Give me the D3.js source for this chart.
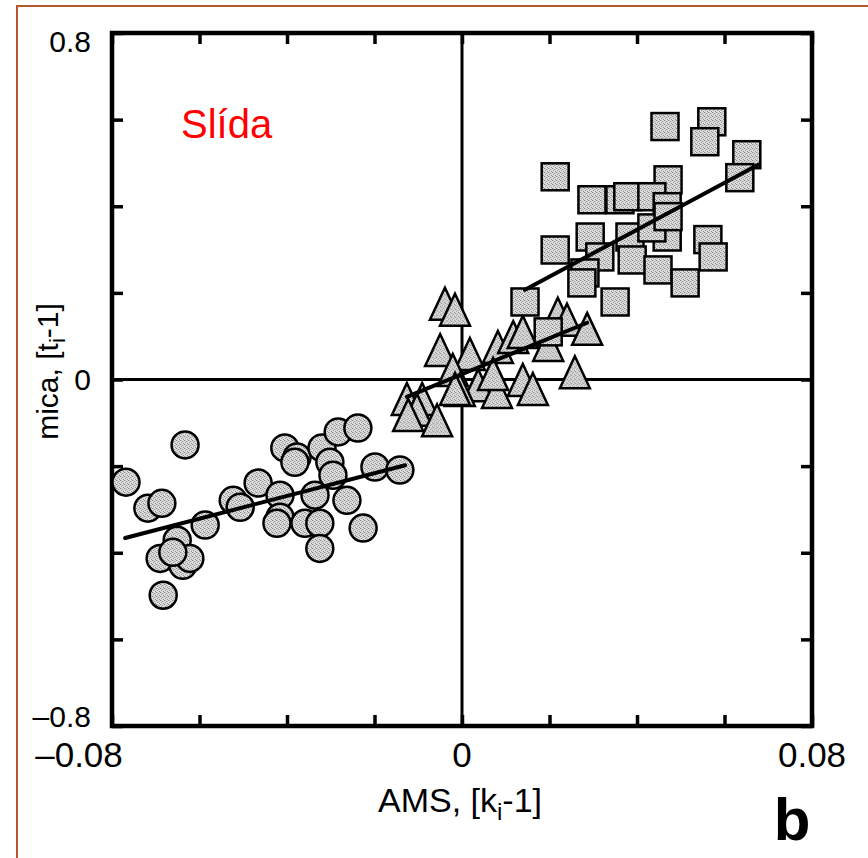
<!DOCTYPE html>
<html>
<head>
<meta charset="utf-8">
<script src="https://cdn.jsdelivr.net/npm/d3@7"></script>
<style>
  body { margin: 0; background: #fff; }
  text { font-family: "Liberation Sans", Arial, Helvetica, sans-serif; }
</style>
</head>
<body>
<svg width="868" height="858"></svg>
<script>
var width = 868,
    height = 858;

// AMS [ki-1] vs mica [ti-1]
var circleX = [-0.0768, -0.0633, -0.0718, -0.0686, -0.0651, -0.0690, -0.0638, -0.0622, -0.0661, -0.0683,
               -0.0587, -0.0523, -0.0507, -0.0466, -0.0416, -0.0416, -0.0423, -0.0405, -0.0377, -0.0382,
               -0.0320, -0.0302, -0.0295, -0.0336, -0.0359, -0.0325, -0.0325, -0.0263, -0.0283, -0.0238,
               -0.0226, -0.0199, -0.0142];
var circleY = [-0.237, -0.151, -0.297, -0.286, -0.371, -0.413, -0.429, -0.413, -0.399, -0.498,
               -0.336, -0.279, -0.295, -0.239, -0.267, -0.318, -0.332, -0.158, -0.179, -0.191,
               -0.158, -0.191, -0.221, -0.267, -0.332, -0.332, -0.390, -0.279, -0.121, -0.112,
               -0.343, -0.202, -0.209];

var triX = [-0.0039, -0.0016, -0.0050, 0.0018, -0.0021, 0.0082, 0.0117, 0.0139, 0.0197, 0.0219,
            0.0240, 0.0286, 0.0258, 0.0037, 0.0080, 0.0139, 0.0162, -0.0005, -0.0126, -0.0091,
            -0.0103, -0.0123, -0.0057, 0.0071, -0.0016];
var triY = [0.168, 0.154, 0.061, 0.052, 0.015, 0.068, 0.091, 0.103, 0.073, 0.145,
            0.131, 0.110, 0.010, -0.020, -0.036, -0.008, -0.029, -0.031, -0.052, -0.052,
            -0.077, -0.089, -0.101, 0.006, -0.029];

var squareX = [0.0464, 0.0571, 0.0555, 0.0651, 0.0635, 0.0213, 0.0471, 0.0297, 0.0361, 0.0379,
               0.0434, 0.0469, 0.0469, 0.0293, 0.0384, 0.0434, 0.0562, 0.0574, 0.0213, 0.0315,
               0.0389, 0.0448, 0.0510, 0.0281, 0.0350, 0.0144, 0.0274, 0.0471, 0.0197];
var squareY = [0.584, 0.595, 0.549, 0.519, 0.466, 0.468, 0.461, 0.415, 0.415, 0.422,
               0.422, 0.399, 0.329, 0.329, 0.329, 0.350, 0.323, 0.283, 0.299, 0.283,
               0.276, 0.253, 0.223, 0.246, 0.179, 0.179, 0.223, 0.376, 0.110];

// fitted lines: [x1, y1, x2, y2]
var fitCircles = [-0.077, -0.366, -0.013, -0.198];
var fitTriangles = [-0.0126, -0.040, 0.0286, 0.131];
var fitSquares = [0.0144, 0.207, 0.0677, 0.496];

var xTicks = [-0.08, -0.06, -0.04, -0.02, 0, 0.02, 0.04, 0.06, 0.08];
var yTicks = [-0.8, -0.6, -0.4, -0.2, 0, 0.2, 0.4, 0.6, 0.8];
var xLabels = ["\u20130.08", "0", "0.08"];
var yLabels = ["\u20130.8", "0", "0.8"];

var plotLeft = 112, plotRight = 812, plotTop = 33, plotBottom = 726;

var svg = d3.select("svg");

var x = d3.scaleLinear().domain([-0.08, 0.08]).range([plotLeft, plotRight]);
var y = d3.scaleLinear().domain([-0.8, 0.8]).range([plotBottom, plotTop]);
// labels on the left sit slightly inside the tick span
var yLab = d3.scaleLinear().domain([-0.8, 0.8]).range([716, 41]);

// outer orange frame
svg.append("rect")
    .attr("x", 17).attr("y", 6)
    .attr("width", 900).attr("height", 900)
    .attr("fill", "none")
    .attr("stroke", "#b4582e")
    .attr("stroke-width", 2);

// stipple pattern for markers
var pat = svg.append("defs").append("pattern")
    .attr("id", "stip")
    .attr("width", 4).attr("height", 4)
    .attr("patternUnits", "userSpaceOnUse");
pat.append("rect").attr("width", 4).attr("height", 4).attr("fill", "#dedede");
[[0, 0, "#8a8a8a"], [2, 1, "#a0a0a0"], [1, 2, "#9a9a9a"], [3, 3, "#8c8c8c"], [3, 1, "#c4c4c4"], [1, 0, "#c0c0c0"]]
    .forEach(function (p) {
        pat.append("rect").attr("x", p[0]).attr("y", p[1])
            .attr("width", 1).attr("height", 1).attr("fill", p[2]);
    });

var g = svg.append("g");

// zero lines
g.append("line")
    .attr("x1", x(0)).attr("x2", x(0))
    .attr("y1", plotTop).attr("y2", plotBottom)
    .attr("stroke", "#000").attr("stroke-width", 3);
g.append("line")
    .attr("x1", plotLeft).attr("x2", plotRight)
    .attr("y1", y(0)).attr("y2", y(0))
    .attr("stroke", "#000").attr("stroke-width", 3);

// axes with inward ticks on all four sides
var tickLen = 11;
function axisStyle(sel) {
    sel.select(".domain").remove();
    sel.selectAll(".tick line").attr("stroke", "#000").attr("stroke-width", 3.5);
    sel.selectAll(".tick text").remove();
}
g.append("g").attr("transform", "translate(0," + plotBottom + ")")
    .call(d3.axisBottom(x).tickValues(xTicks).tickSize(-tickLen)).call(axisStyle);
g.append("g").attr("transform", "translate(0," + plotTop + ")")
    .call(d3.axisTop(x).tickValues(xTicks).tickSize(-tickLen)).call(axisStyle);
g.append("g").attr("transform", "translate(" + plotLeft + ",0)")
    .call(d3.axisLeft(y).tickValues(yTicks).tickSize(-tickLen)).call(axisStyle);
g.append("g").attr("transform", "translate(" + plotRight + ",0)")
    .call(d3.axisRight(y).tickValues(yTicks).tickSize(-tickLen)).call(axisStyle);

g.append("rect")
    .attr("x", plotLeft).attr("y", plotTop)
    .attr("width", plotRight - plotLeft).attr("height", plotBottom - plotTop)
    .attr("fill", "none")
    .attr("stroke", "#000").attr("stroke-width", 4.5);

// tick labels
g.selectAll(".xl")
    .data([-0.08, 0, 0.08])
    .enter().append("text")
    .attr("x", function (d) { return x(d) - (d < 0 ? 33 : 0); })
    .attr("y", plotBottom + 41)
    .attr("text-anchor", "middle")
    .attr("font-size", 35)
    .text(function (d, i) { return xLabels[i]; });

g.selectAll(".yl")
    .data([-0.8, 0, 0.8])
    .enter().append("text")
    .attr("x", plotLeft - 21)
    .attr("y", function (d) { return yLab(d) + 11; })
    .attr("text-anchor", "end")
    .attr("font-size", 30)
    .text(function (d, i) { return yLabels[i]; });

// markers
var circles = d3.range(circleX.length).map(function (i) { return [circleX[i], circleY[i]]; });
var tris = d3.range(triX.length).map(function (i) { return [triX[i], triY[i]]; });
var squares = d3.range(squareX.length).map(function (i) { return [squareX[i], squareY[i]]; });

g.selectAll(".c")
    .data(circles)
    .enter().append("circle")
    .attr("cx", function (d) { return x(d[0]); })
    .attr("cy", function (d) { return y(d[1]); })
    .attr("r", 13.5)
    .attr("fill", "url(#stip)")
    .attr("stroke", "#000").attr("stroke-width", 2.5);

// slightly tall triangle, like the printed marker
var tallTriangle = {
    draw: function (ctx) {
        ctx.moveTo(0, -19);
        ctx.lineTo(15, 13);
        ctx.lineTo(-15, 13);
        ctx.closePath();
    }
};
var triPath = d3.symbol().type(tallTriangle);
g.selectAll(".t")
    .data(tris)
    .enter().append("path")
    .attr("d", triPath)
    .attr("transform", function (d) { return "translate(" + x(d[0]) + "," + y(d[1]) + ")"; })
    .attr("fill", "url(#stip)")
    .attr("stroke", "#000").attr("stroke-width", 2.5)
    .attr("stroke-linejoin", "miter");

g.selectAll(".s")
    .data(squares)
    .enter().append("rect")
    .attr("x", function (d) { return x(d[0]) - 13.5; })
    .attr("y", function (d) { return y(d[1]) - 13.5; })
    .attr("width", 27).attr("height", 27)
    .attr("fill", "url(#stip)")
    .attr("stroke", "#000").attr("stroke-width", 2.5);

// fit lines
[fitCircles, fitTriangles, fitSquares].forEach(function (f) {
    g.append("line")
        .attr("x1", x(f[0])).attr("y1", y(f[1]))
        .attr("x2", x(f[2])).attr("y2", y(f[3]))
        .attr("stroke", "#000").attr("stroke-width", 4)
        .attr("stroke-linecap", "round");
});

// axis titles
var xt = svg.append("text")
    .attr("x", 460)
    .attr("y", 812)
    .attr("text-anchor", "middle")
    .attr("font-size", 34);
xt.append("tspan").text("AMS, [k");
xt.append("tspan").attr("font-size", 24).attr("dy", 8).text("i");
xt.append("tspan").attr("dy", -8).text("-1]");

var yt = svg.append("text")
    .attr("transform", "translate(58," + ((plotTop + plotBottom) / 2 - 8) + ") rotate(-90)")
    .attr("text-anchor", "middle")
    .attr("font-size", 30);
yt.append("tspan").text("mica, [t");
yt.append("tspan").attr("font-size", 22).attr("dy", 7).text("i");
yt.append("tspan").attr("dy", -7).text("-1]");

svg.append("text")
    .attr("x", 181).attr("y", 138)
    .attr("font-size", 40)
    .attr("fill", "#ff0000")
    .text("Slída");

svg.append("text")
    .attr("x", 792).attr("y", 840)
    .attr("text-anchor", "middle")
    .attr("font-size", 60)
    .attr("font-weight", "bold")
    .text("b");
</script>
</body>
</html>
